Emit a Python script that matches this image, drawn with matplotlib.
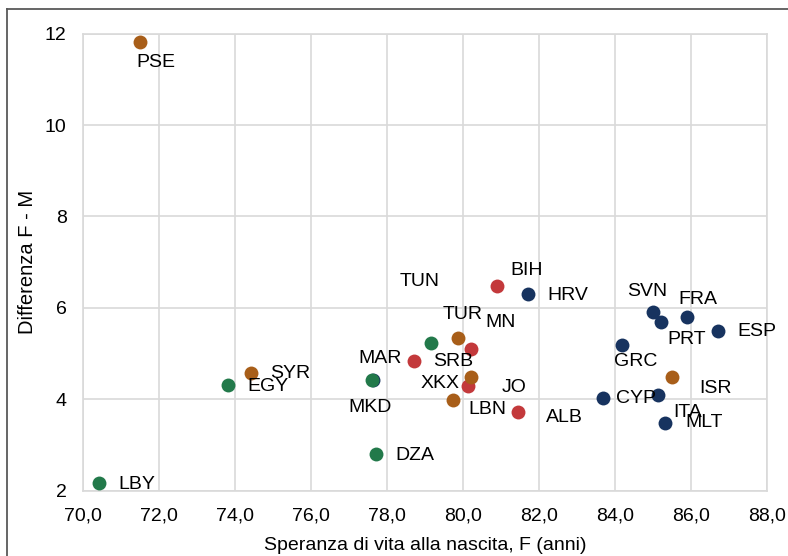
import matplotlib
matplotlib.use("Agg")
import matplotlib.pyplot as plt
from matplotlib.lines import Line2D

plt.rcParams["font.family"] = ["Liberation Sans", "DejaVu Sans"]

# Country codes, female life expectancy at birth, F - M gap, and region group
countries = ["MKD", "PSE", "LBY", "EGY", "SYR", "DZA", "MAR", "TUN",
             "TUR", "MN", "SRB", "XKX", "LBN", "JO", "ALB", "BIH",
             "HRV", "SVN", "PRT", "FRA", "ESP", "GRC", "ISR", "ITA",
             "CYP", "MLT"]
life_exp_f = [77.62, 71.49, 70.42, 73.81, 74.41, 77.70, 77.59, 79.15,
              79.86, 80.20, 78.70, 80.12, 79.74, 80.19, 81.45, 80.89,
              81.69, 85.00, 85.21, 85.89, 86.70, 84.19, 85.49, 85.12,
              83.68, 85.32]
gap_f_m = [4.42, 11.82, 2.16, 4.32, 4.58, 2.80, 4.42, 5.23,
           5.33, 5.09, 4.84, 4.29, 3.98, 4.48, 3.72, 6.48,
           6.30, 5.90, 5.69, 5.79, 5.49, 5.19, 4.49, 4.09,
           4.03, 3.49]
groups = ["eu", "me", "naf", "naf", "me", "naf", "naf", "naf",
          "me", "balk", "balk", "balk", "me", "me", "balk", "balk",
          "eu", "eu", "eu", "eu", "eu", "eu", "me", "eu",
          "eu", "eu"]

# Label placement relative to each marker (pixels)
label_offsets = [None, (16, -21), (38, -1), (40, -2), (39, -1), (39, -1),
                 (8, 22), (-11, 62), (5, 24), (30, 27), (39, -1), (-28, 3),
                 (34, -9), (44, -10), (46, -5), (30, 15), (40, -1), (-6, 21),
                 (25, -17), (11, 18), (39, 0), (13, -17), (44, -12),
                 (30, -17), (33, -1), (39, 0)]
# Label drawn for MKD sits below the MAR marker
mkd_label_offset = (-2, -27)

group_colors = {"eu": "#17335F", "balk": "#C3393B",
                "me": "#A85E19", "naf": "#22794A"}

x_ticks = [70, 72, 74, 76, 78, 80, 82, 84, 86, 88]
y_ticks = [2, 4, 6, 8, 10, 12]

fig = plt.figure(figsize=(7.88, 5.56), dpi=100)
ax = fig.add_axes([0.1057, 0.1175, 0.868, 0.8219])

for i, (x, y, g) in enumerate(zip(life_exp_f, gap_f_m, groups)):
    ax.scatter([x], [y], s=100, color=group_colors[g], linewidths=0,
               zorder=3)

for i, name in enumerate(countries):
    off = label_offsets[i]
    if name == "MKD":
        off = mkd_label_offset
        # anchor on the MAR marker that covers it
        j = countries.index("MAR")
        xy = (life_exp_f[j], gap_f_m[j])
    else:
        xy = (life_exp_f[i], gap_f_m[i])
    ax.annotate(name, xy=xy, xytext=off, textcoords="offset pixels",
                ha="center", va="center", fontsize=14, color="#000000",
                zorder=4)

ax.set_xlim(70, 88)
ax.set_ylim(2, 12)
ax.set_xticks(x_ticks)
ax.set_xticklabels([f"{t:.1f}".replace(".", ",") for t in x_ticks])
ax.set_yticks(y_ticks)
ax.set_yticklabels([str(t) for t in y_ticks])
ax.tick_params(axis="both", length=0, labelsize=14, colors="#000000")
ax.tick_params(axis="y", pad=12)
ax.tick_params(axis="x", pad=12)
ax.grid(True, color="#D9D9D9", linewidth=1.2, zorder=0)
ax.set_axisbelow(True)
for sp in ax.spines.values():
    sp.set_color("#D9D9D9")
    sp.set_linewidth(1.2)

ax.set_xlabel("Speranza di vita alla nascita, F (anni)", fontsize=14,
              color="#000000", labelpad=9)
ax.set_ylabel("Differenza F - M", fontsize=14.5, color="#000000",
              labelpad=12)
ax.yaxis.set_label_coords(-0.068, 0.5)

# Outer chart frame
fig.add_artist(Line2D([7 / 788, 1.0], [1 - 9 / 556, 1 - 9 / 556],
                      transform=fig.transFigure, color="#595959",
                      linewidth=1.3))
fig.add_artist(Line2D([7 / 788, 7 / 788], [0.0, 1 - 9 / 556],
                      transform=fig.transFigure, color="#595959",
                      linewidth=1.3))

fig.savefig("out.png", dpi=100, facecolor="white")
